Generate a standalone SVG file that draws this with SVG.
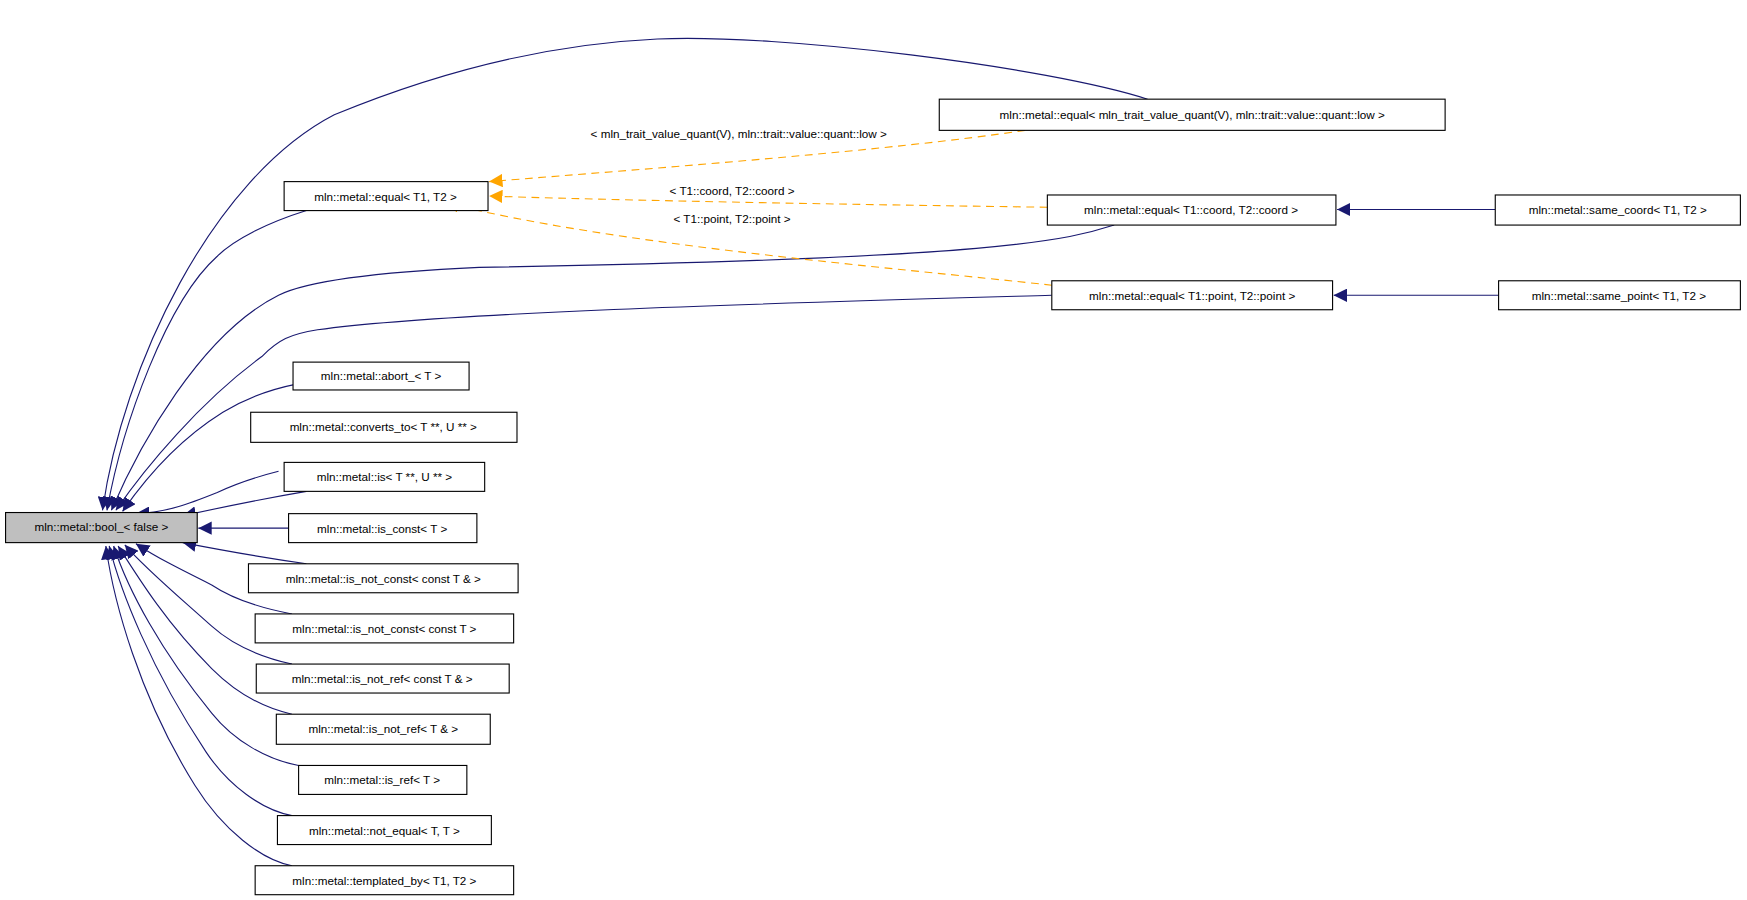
<svg xmlns="http://www.w3.org/2000/svg" width="1747" height="900" viewBox="0 0 1747 900">
<style>
.n rect{fill:#fff;stroke:#000;stroke-width:1}
.n text{font-family:"Liberation Sans",Arial,sans-serif;font-size:10.5px;text-anchor:middle;fill:#000}
.l{font-family:"Liberation Sans",Arial,sans-serif;font-size:10.5px;text-anchor:middle;fill:#000}
.e{fill:none;stroke:#191970;stroke-width:1;marker-end:url(#a)}
.d{fill:none;stroke:#ffa500;stroke-width:1;stroke-dasharray:7,5;marker-end:url(#o)}
</style>
<defs>
<marker id="a" viewBox="0 0 10 10" refX="10" refY="5" markerWidth="12" markerHeight="12" markerUnits="userSpaceOnUse" orient="auto"><path d="M0,0L10,5L0,10z" fill="#191970"/></marker>
<marker id="o" viewBox="0 0 10 10" refX="10" refY="5" markerWidth="12" markerHeight="12" markerUnits="userSpaceOnUse" orient="auto"><path d="M0,0L10,5L0,10z" fill="#ffa500"/></marker>
</defs>
<rect width="1747" height="900" fill="#fff"/>
<g transform="scale(1.1142)">
<g id="edges">
<path class="e" d="M1030,89 C940,60 700,30 590,35 C480,40 380,70 300,103 C190,160 110,330 92,458"/>
<path class="e" d="M275,189 C240,200 210,215 195,230 C150,270 110,380 96,458"/>
<path class="e" d="M1000,202 C960,215 900,232 430,240 C320,245 270,255 250,265 C180,300 125,400 100,458"/>
<path class="e" d="M944,265 C700,272 400,280 285,296 C260,300 250,305 235,320 C180,360 130,420 104,458"/>
<path class="e" d="M265,345 C240,350 220,358 200,370 C160,395 130,430 110,459"/>
<path class="e" d="M250,423 C230,428 210,435 195,442 C170,452 150,460 122,461"/>
<path class="e" d="M275,441 C240,447 200,455 164,463"/>
<path class="e" d="M259,474 L178,474"/>
<path class="e" d="M275,506 C240,501 200,494 164,487"/>
<path class="e" d="M262,551 C230,545 205,535 190,525 C160,510 140,500 122,488"/>
<path class="e" d="M262,596 C235,590 210,580 190,562 C160,535 130,510 112,489"/>
<path class="e" d="M262,641 C235,635 210,620 190,600 C150,560 125,520 106,490"/>
<path class="e" d="M268,687 C240,682 210,665 190,640 C145,585 115,530 102,490"/>
<path class="e" d="M262,732 C235,727 205,705 185,675 C135,600 108,530 98,490"/>
<path class="e" d="M262,777 C235,772 200,745 175,705 C125,625 102,540 95,490"/>
<path class="e" d="M1342,188 L1200,188"/>
<path class="e" d="M1345,265 L1197,265"/>
<path class="d" d="M920,117 C800,135 600,150 439,163"/>
<path class="d" d="M940,186 C800,184 600,181 439,176"/>
<path class="d" d="M944,256 C800,240 550,220 400,182"/>
<text class="l" x="663" y="124">&lt; mln_trait_value_quant(V), mln::trait::value::quant::low &gt;</text>
<text class="l" x="657" y="175">&lt; T1::coord, T2::coord &gt;</text>
<text class="l" x="657" y="200">&lt; T1::point, T2::point &gt;</text>
</g>
<g id="bool" class="n"><rect x="5" y="460" width="172" height="27" style="fill:#bfbfbf"/><text x="91" y="477">mln::metal::bool_&lt; false &gt;</text></g>
<g id="eqT" class="n"><rect x="255" y="163" width="183" height="26"/><text x="346" y="180">mln::metal::equal&lt; T1, T2 &gt;</text></g>
<g id="eqq" class="n"><rect x="843" y="89" width="454" height="28"/><text x="1070" y="107">mln::metal::equal&lt; mln_trait_value_quant(V), mln::trait::value::quant::low &gt;</text></g>
<g id="eqc" class="n"><rect x="940" y="175" width="259" height="27"/><text x="1069" y="192">mln::metal::equal&lt; T1::coord, T2::coord &gt;</text></g>
<g id="sc" class="n"><rect x="1342" y="175" width="220" height="27"/><text x="1452" y="192">mln::metal::same_coord&lt; T1, T2 &gt;</text></g>
<g id="eqp" class="n"><rect x="944" y="252" width="252" height="26"/><text x="1070" y="269">mln::metal::equal&lt; T1::point, T2::point &gt;</text></g>
<g id="sp" class="n"><rect x="1345" y="252" width="217" height="26"/><text x="1453" y="269">mln::metal::same_point&lt; T1, T2 &gt;</text></g>
<g id="abort" class="n"><rect x="263" y="325" width="158" height="25"/><text x="342" y="341">mln::metal::abort_&lt; T &gt;</text></g>
<g id="conv" class="n"><rect x="225" y="370" width="239" height="27"/><text x="344" y="387">mln::metal::converts_to&lt; T **, U ** &gt;</text></g>
<g id="is" class="n"><rect x="255" y="415" width="180" height="26"/><text x="345" y="432">mln::metal::is&lt; T **, U ** &gt;</text></g>
<g id="isc" class="n"><rect x="259" y="461" width="169" height="26"/><text x="343" y="478">mln::metal::is_const&lt; T &gt;</text></g>
<g id="inc1" class="n"><rect x="223" y="506" width="242" height="26"/><text x="344" y="523">mln::metal::is_not_const&lt; const T &amp; &gt;</text></g>
<g id="inc2" class="n"><rect x="229" y="551" width="232" height="26"/><text x="345" y="568">mln::metal::is_not_const&lt; const T &gt;</text></g>
<g id="inr1" class="n"><rect x="230" y="596" width="227" height="26"/><text x="343" y="613">mln::metal::is_not_ref&lt; const T &amp; &gt;</text></g>
<g id="inr2" class="n"><rect x="248" y="641" width="192" height="27"/><text x="344" y="658">mln::metal::is_not_ref&lt; T &amp; &gt;</text></g>
<g id="isr" class="n"><rect x="268" y="687" width="151" height="26"/><text x="343" y="704">mln::metal::is_ref&lt; T &gt;</text></g>
<g id="neq" class="n"><rect x="249" y="732" width="192" height="26"/><text x="345" y="749">mln::metal::not_equal&lt; T, T &gt;</text></g>
<g id="tb" class="n"><rect x="229" y="777" width="232" height="26"/><text x="345" y="794">mln::metal::templated_by&lt; T1, T2 &gt;</text></g>
</g>
</svg>
